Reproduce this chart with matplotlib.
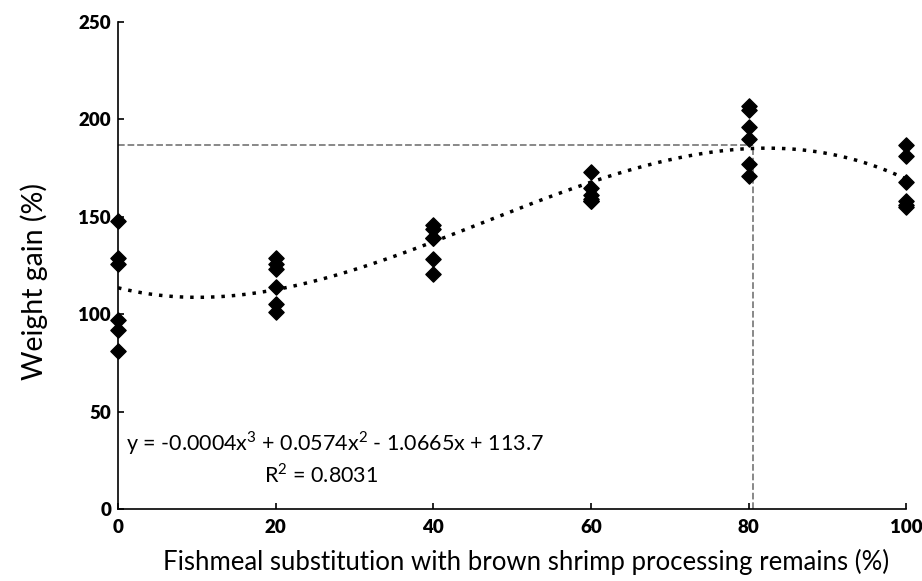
import numpy as np
import matplotlib
matplotlib.use("Agg")
import matplotlib.pyplot as plt

# substitution levels (%) and replicate weight gain readings (%)
levels = [0, 20, 40, 60, 80, 100]
gain_0 = [148, 129, 126, 97, 92, 81]
gain_20 = [129, 126, 123, 114, 105, 101]
gain_40 = [146, 144, 139, 139, 128.5, 120.5]
gain_60 = [173, 165, 161, 159, 158, 158]
gain_80 = [207, 205, 196, 190, 177, 171]
gain_100 = [187, 181, 168, 158, 156, 155]
groups = [gain_0, gain_20, gain_40, gain_60, gain_80, gain_100]

# optimum
opt_x = 80.6
opt_y = 187

eq_text = "y = -0.0004x$^3$ + 0.0574x$^2$ - 1.0665x + 113.7"
r2_text = "R$^2$ = 0.8031"

plt.rcParams['font.family'] = ['Lato', 'DejaVu Sans']
plt.rcParams['mathtext.fontset'] = 'custom'
plt.rcParams['mathtext.rm'] = 'Lato'

x = np.concatenate([[lv] * len(g) for lv, g in zip(levels, groups)])
y = np.concatenate(groups)

fig = plt.figure(figsize=(9.22, 5.81), dpi=100)
ax = fig.add_axes([0.128, 0.124, 0.855, 0.838])

# cubic trendline fitted to the points
coef = np.polyfit(x, y, 3)
xs = np.linspace(0, 100, 300)
ax.plot(xs, np.polyval(coef, xs), color='black', linestyle=(0, (1, 2)),
        linewidth=2.5, zorder=2)

ax.plot([0, opt_x], [opt_y, opt_y], color='#7f7f7f', linestyle='--',
        linewidth=1.3, zorder=1)
ax.plot([opt_x, opt_x], [0, opt_y], color='#7f7f7f', linestyle='--',
        linewidth=1.3, zorder=1)

ax.scatter(x, y, marker='D', s=60, color='black', zorder=3, clip_on=False)

ax.set_xlim(0, 100)
ax.set_ylim(0, 250)
ax.set_xticks(levels)
ax.set_yticks([0, 50, 100, 150, 200, 250])
for s in ['top', 'right']:
    ax.spines[s].set_visible(False)
for s in ['left', 'bottom']:
    ax.spines[s].set_linewidth(1.2)
ax.tick_params(direction='in', length=4, width=1.2, labelsize=13.5)
ax.tick_params(axis='y', pad=5)
ax.tick_params(axis='x', pad=7)
for lab in ax.get_xticklabels() + ax.get_yticklabels():
    lab.set_fontweight('heavy')

ax.set_xlabel("Fishmeal substitution with brown shrimp processing remains (%)",
              fontsize=18.5)
ax.set_ylabel("Weight gain (%)", fontsize=20.5)
ax.xaxis.set_label_coords(0.518, -0.082)
ax.yaxis.set_label_coords(-0.089, 0.468)

ax.text(1, 30, eq_text, fontsize=15.5)
ax.text(25.8, 13.5, r2_text, fontsize=15.5, ha='center')

fig.savefig("out.png", dpi=100)
